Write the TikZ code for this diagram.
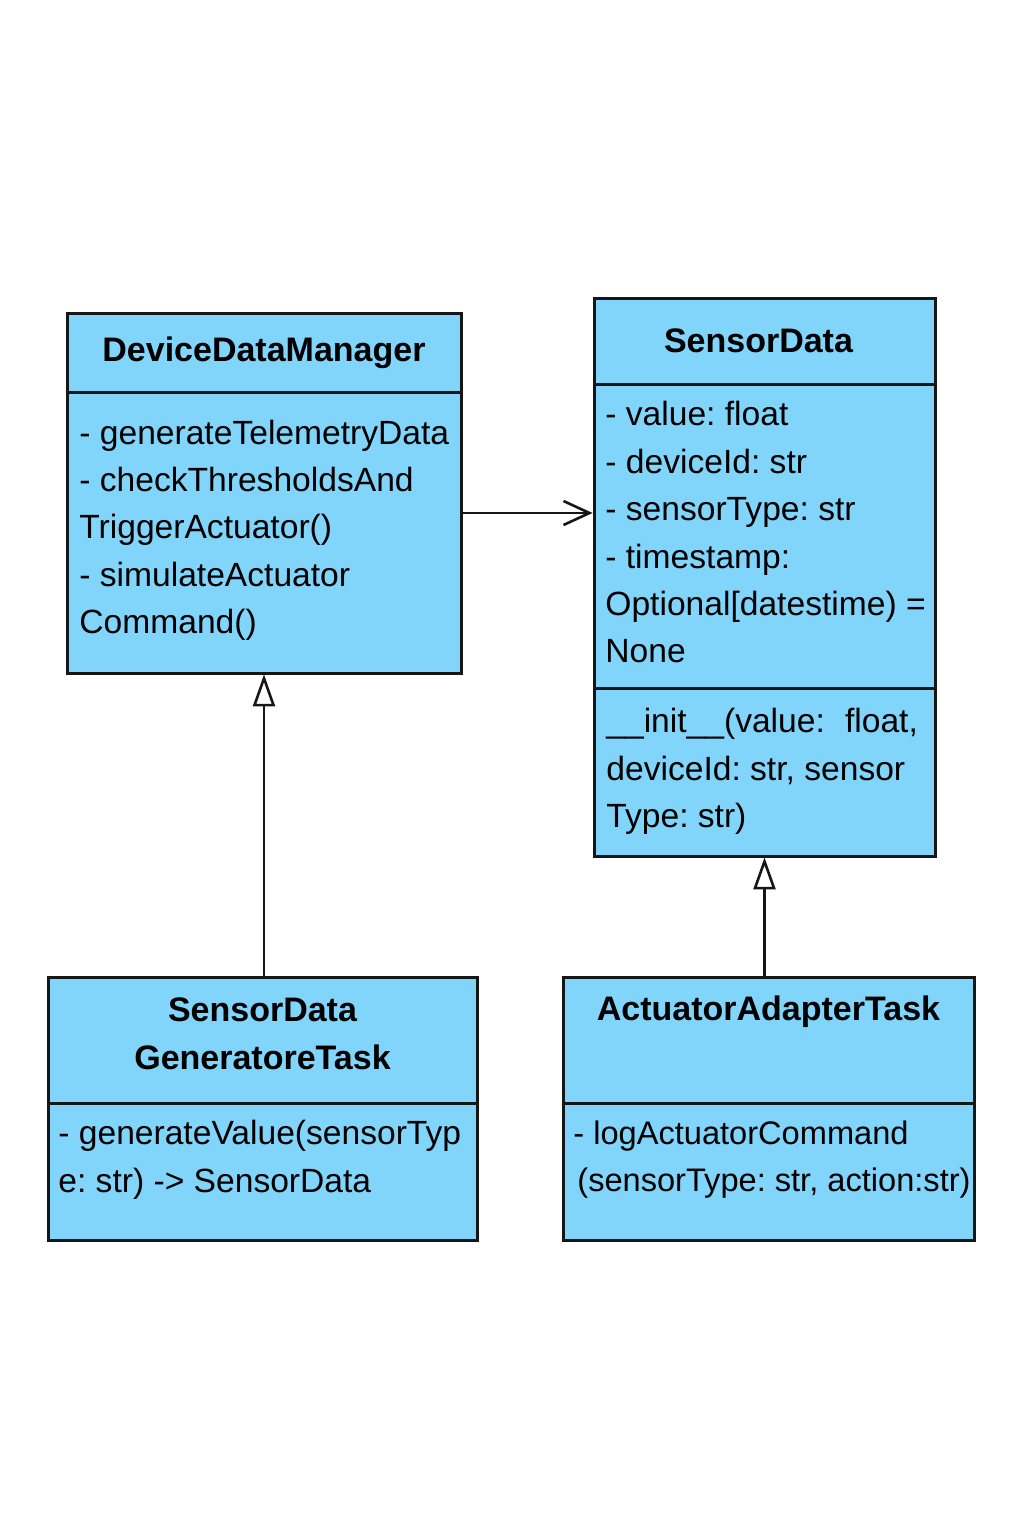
\documentclass[tikz,border=0pt]{standalone}
\usepackage{fontspec}
\setmainfont{Liberation Sans}
\usetikzlibrary{positioning,arrows.meta}
\definecolor{classblue}{RGB}{129,212,250}
\definecolor{edgeblack}{RGB}{22,22,22}
\frenchspacing

\begin{document}
\begin{tikzpicture}[x=0.5pt,y=-0.5pt,
   compart/.style={draw=edgeblack,fill=classblue,line width=1.5pt,outer sep=0pt,inner sep=0pt},
   classname/.style={compart,font=\fontsize{17}{24}\selectfont\bfseries,align=center},
   members/.style={anchor=north west,inner sep=0pt,align=left,font=\fontsize{16.8}{23.7}\selectfont},
   assoc/.style={-{Straight Barb[length=13pt,width=12pt]},shorten >=0.7pt,line width=1.3pt,draw=edgeblack},
   inherit/.style={-{Triangle[open,length=16pt,width=11pt,fill=white]},shorten >=0.7pt,line width=1.3pt,draw=edgeblack}]
   \fill[white] (0,0) rectangle (1024,1536);
   \useasboundingbox (0,0) rectangle (1024,1536);

   % DeviceDataManager
   \node[classname,anchor=north west,minimum width=197pt,minimum height=39.5pt] (ddmtitle) at (67,313) {DeviceDataManager};
   \node[compart,minimum width=197pt,minimum height=140.5pt,below=0pt of ddmtitle] (ddmbody) {};
   \node[members] (ddmtext) at ([xshift=6pt,yshift=-13.7pt]ddmbody.north west)
      {- generateTelemetryData\\- checkThresholdsAnd\\TriggerActuator()\\- simulateActuator\\Command()};

   % SensorData
   \node[classname,anchor=north west,minimum width=170.5pt,minimum height=43pt] (sdtitle) at (594,298) {SensorData\hspace*{6pt}};
   \node[compart,minimum width=170.5pt,minimum height=152pt,below=0pt of sdtitle] (sdattr) {};
   \node[compart,minimum width=170.5pt,minimum height=84pt,below=0pt of sdattr] (sdmeth) {};
   \node[members] (sdattrtext) at ([xshift=5.5pt,yshift=-8.6pt]sdattr.north west)
      {- value: float\\- deviceId: str\\- sensorType: str\\- timestamp:\\Optional[datestime) =\\None};
   \node[members] (sdmethtext) at ([xshift=6pt,yshift=-10pt]sdmeth.north west)
      {\_\_init\_\_(value:\hspace{0.6em}float,\\deviceId: str, sensor\\Type: str)};

   % SensorDataGeneratoreTask
   \node[classname,anchor=north west,minimum width=214.5pt,minimum height=63pt,text depth=6pt] (gentitle) at (48,977) {SensorData\\GeneratoreTask};
   \node[compart,minimum width=214.5pt,minimum height=68.5pt,below=0pt of gentitle] (genbody) {};
   \node[members] (gentext) at ([xshift=5pt,yshift=-8.5pt]genbody.north west)
      {- generateValue(sensorTyp\\e: str) -> SensorData};

   % ActuatorAdapterTask
   \node[classname,anchor=north west,minimum width=205.5pt,minimum height=63pt,text depth=32pt] (acttitle) at (563,977) {ActuatorAdapterTask};
   \node[compart,minimum width=205.5pt,minimum height=68.5pt,below=0pt of acttitle] (actbody) {};
   \node[members,font=\fontsize{16.3}{23.7}\selectfont] (acttext) at ([xshift=5pt,yshift=-8.5pt]actbody.north west)
      {- logActuatorCommand\\\hspace*{2pt}(sensorType: str, action:str)};

   % relations
   \draw[assoc] ([yshift=9.75pt]ddmbody.east) -- ([yshift=9.75pt]ddmbody.east -| sdattr.west);
   \draw[inherit] (ddmbody.south |- gentitle.north) -- (ddmbody.south);
   \draw[inherit] (sdmeth.south |- acttitle.north) -- (sdmeth.south);
\end{tikzpicture}
\end{document}
